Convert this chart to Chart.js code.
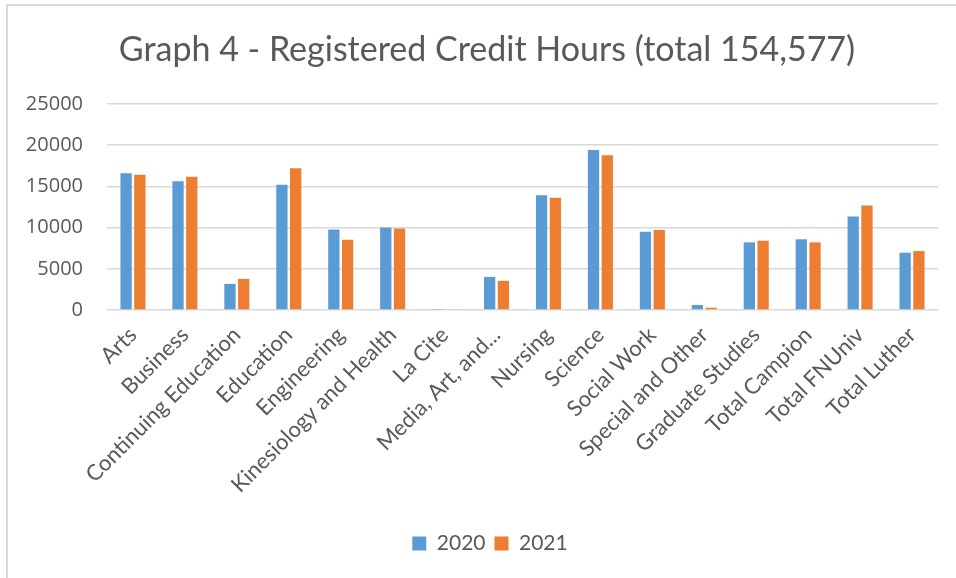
<!DOCTYPE html>
<html>
<head>
<meta charset="utf-8">
<script src="https://cdn.jsdelivr.net/npm/chart.js@4/dist/chart.umd.min.js"></script>
<style>
  html, body { margin: 0; padding: 0; background: #fff; overflow: hidden; }
  #wrap { position: absolute; left: 0; top: 0; width: 956px; height: 578px; }
  #frame { position: absolute; left: 6px; top: 4px; width: 1000px; height: 700px;
           border-left: 2px solid #D9D9D9; border-top: 2px solid #D9D9D9; }
  canvas { position: absolute; left: 0; top: 0; }
</style>
</head>
<body>
<div id="wrap">
  <div id="frame"></div>
  <canvas id="c" width="956" height="578"></canvas>
</div>
<script>
const categories = ["Arts", "Business", "Continuing Education", "Education", "Engineering",
  "Kinesiology and Health", "La Cite", "Media, Art, and...", "Nursing", "Science",
  "Social Work", "Special and Other", "Graduate Studies", "Total Campion",
  "Total FNUniv", "Total Luther"];
const values2020 = [16590, 15610, 3170, 15200, 9760, 10000, 60, 4020, 13940, 19430,
  9510, 610, 8210, 8580, 11340, 6950];
const values2021 = [16420, 16180, 3780, 17200, 8540, 9880, 100, 3540, 13620, 18780,
  9720, 280, 8410, 8210, 12680, 7150];
const seriesNames = ["2020", "2021"];
const yTicks = [0, 5000, 10000, 15000, 20000, 25000];
const titleText = "Graph 4 - Registered Credit Hours (total 154,577)";

const FONT = "Lato, 'Open Sans', sans-serif";
const YFONT = "'Open Sans', Lato, sans-serif";
const TXT = "#595959";

// Title drawn centred over the chart frame (Excel-style), as real canvas text.
const frameTitle = {
  id: "frameTitle",
  afterLayout(chart) {
    // centre the legend under the whole frame rather than the canvas
    const lg = chart.legend;
    if (lg) { lg.left += 21; lg.right += 21; }
  },
  afterDraw(chart) {
    const ctx = chart.ctx;
    ctx.save();
    ctx.font = "34px " + FONT;
    ctx.fillStyle = TXT;
    ctx.textAlign = "center";
    ctx.textBaseline = "middle";
    ctx.fillText(titleText, 487, 50);
    ctx.restore();
  }
};

new Chart(document.getElementById("c"), {
  type: "bar",
  data: {
    labels: categories,
    datasets: [
      { label: seriesNames[0], data: values2020, backgroundColor: "#5B9BD5",
        categoryPercentage: 0.53, barPercentage: 0.82 },
      { label: seriesNames[1], data: values2021, backgroundColor: "#ED7D31",
        categoryPercentage: 0.53, barPercentage: 0.82 }
    ]
  },
  plugins: [frameTitle],
  options: {
    responsive: false,
    animation: false,
    layout: { padding: { left: 0, right: 18, top: 104, bottom: 14 } },
    plugins: {
      title: { display: false },
      legend: {
        position: "bottom",
        fullSize: true,
        labels: {
          color: TXT,
          font: { family: FONT, size: 21 },
          boxWidth: 14, boxHeight: 14, padding: 9
        }
      },
      tooltip: { enabled: false }
    },
    scales: {
      x: {
        grid: { display: false },
        border: { display: false },
        ticks: {
          color: TXT, font: { family: FONT, size: 22 },
          minRotation: 45, maxRotation: 45, autoSkip: false, padding: 4
        },
        afterFit: s => { s.height = 214; }
      },
      y: {
        min: 0, max: 25000,
        afterBuildTicks: s => { s.ticks = yTicks.map(v => ({ value: v })); },
        grid: { color: "#D9D9D9", lineWidth: 1.5, drawTicks: false },
        border: { display: false },
        ticks: { color: TXT, font: { family: YFONT, size: 20 }, padding: 24,
                 callback: v => String(v) },
        afterFit: s => { s.width = 107; }
      }
    }
  }
});
</script>
</body>
</html>
